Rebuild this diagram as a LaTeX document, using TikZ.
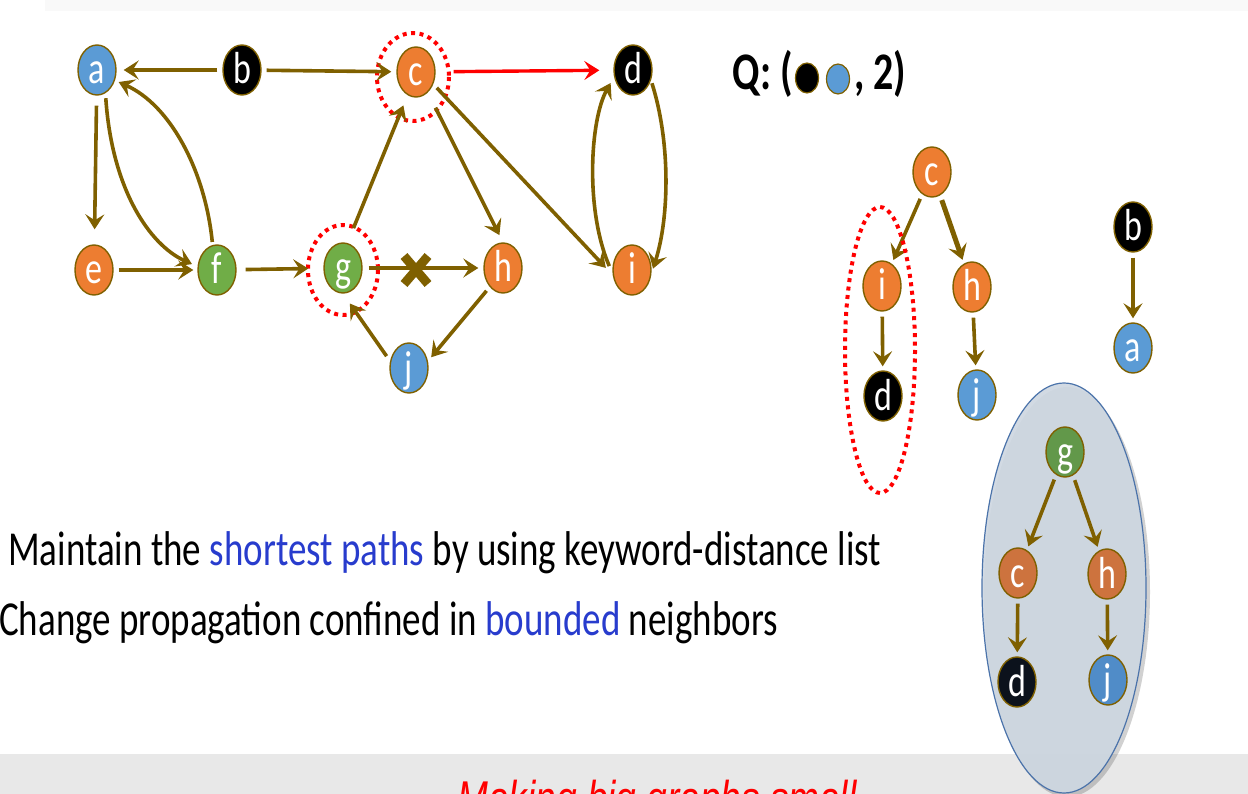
\documentclass[tikz,border=0pt]{standalone}
\usepackage{fontspec}
\setmainfont{Carlito}
\newfontfamily\redfont{Liberation Sans}
\usetikzlibrary{shapes.geometric,arrows.meta}
\definecolor{brn}{RGB}{127,96,0}
\definecolor{nblue}{RGB}{91,155,213}
\definecolor{norange}{RGB}{237,125,49}
\definecolor{ngreen}{RGB}{112,173,71}
\definecolor{dblue}{RGB}{80,140,200}
\definecolor{dorange}{RGB}{205,115,62}
\definecolor{dgreen}{RGB}{98,152,74}
\definecolor{dblack}{RGB}{12,18,28}
\definecolor{kwblue}{RGB}{40,60,205}
\definecolor{ovfill}{RGB}{206,215,225}
\definecolor{ovline}{RGB}{75,115,170}
\definecolor{topband}{RGB}{249,249,249}
\definecolor{botband}{RGB}{232,232,232}
\newcommand{\vs}[1]{\scalebox{1}[1.32]{#1}}
\begin{document}
\begin{tikzpicture}[x=1pt,y=-1pt,
  nd/.style={ellipse,draw=brn,line width=1.4pt,minimum width=38pt,minimum height=50pt,
    inner sep=0pt,text=white,font=\fontsize{34}{34}\selectfont,text height=28pt,text depth=0pt},
  ed/.style={draw=brn,line width=3.6pt,-{Stealth[length=15pt,width=19pt,inset=6pt]},
    shorten >=4pt,shorten <=5pt},
  rededge/.style={draw=red,line width=3.4pt,-{Stealth[length=15pt,width=19pt,inset=6pt]}},
  reddot/.style={draw=red,line width=4pt,dash pattern=on 4pt off 4.5pt},
  xbar/.style={draw=brn,line width=9pt},
  bodytext/.style={inner sep=0pt,font=\fontsize{37}{37}\selectfont},
  qtext/.style={inner sep=0pt,font=\fontsize{40}{40}\selectfont\bfseries},
  qdot/.style={ellipse,draw=brn,line width=1.2pt,minimum width=23pt,minimum height=30pt,inner sep=0pt}
]
\path[use as bounding box] (0,0) rectangle (1248,794);
\clip (0,0) rectangle (1248,794);
% bands
\fill[topband] (45,0) rectangle (1248,11);
\fill[botband] (0,754) rectangle (1248,794);
\node[anchor=base,inner sep=0pt,text=red,font=\redfont\itshape\fontsize{37}{37}\selectfont] (foot) at (657,815) {\vs{Making big graphs small}};

% ---------- left graph nodes ----------
\node[nd,fill=nblue] (a) at (97,70) {\vs{a}};
\node[nd,fill=black] (b) at (242,70) {\vs{b}};
\node[nd,fill=norange] (c) at (416,72) {\vs{c}};
\node[nd,fill=black] (d) at (633,70) {\vs{d}};
\node[nd,fill=norange] (e) at (94,270) {\vs{e}};
\node[nd,fill=ngreen] (f) at (217,270) {\vs{f}};
\node[nd,fill=ngreen] (g) at (343,268) {\vs{g}};
\node[nd,fill=norange] (h) at (503,268) {\vs{h}};
\node[nd,fill=norange] (i) at (632,270) {\vs{i}};
\node[nd,fill=nblue] (j) at (409,368) {\vs{j}};

\draw[reddot] (c.center) ++(-3,5) ellipse [x radius=36, y radius=44];
\draw[reddot] (g.center) ++(0,2) ellipse [x radius=35, y radius=45];

% edges
\draw[ed,shorten >=7pt] (b) -- (a);
\draw[ed,shorten >=5pt] (b) -- (c);
\draw[rededge,shorten <=18pt,shorten >=14pt] (c) -- (d);
\draw[ed,shorten >=15pt,shorten <=10pt] (a) -- (e);
\draw[ed,shorten >=6pt] (a.-70) .. controls (112,190) and (150,245) .. (f.170);
\draw[ed,shorten >=4pt,shorten <=3pt] (f.100) .. controls (205,170) and (170,105) .. (a.-30);
\draw[ed] (e) -- (f);
\draw[ed,shorten >=15pt,shorten <=9pt] (f) -- (g);
\draw[ed,shorten <=16pt,shorten >=11pt] (g.80) -- (c.-110);
\draw[ed,shorten <=17pt,shorten >=8pt] (c.-60) -- (h.north);
\draw[ed,shorten <=5pt,shorten >=10pt] (c.-35) -- (i.195);
\draw[ed,shorten <=6pt,shorten >=5pt] (g) -- (h);
\draw[ed,shorten <=5pt,shorten >=5pt] (h.-125) -- (j.20);
\draw[ed,shorten <=6pt,shorten >=12pt] (j.160) -- (g.-90);
\draw[ed,shorten <=3pt,shorten >=5pt] (d.-30) .. controls (670,140) and (670,215) .. (i.-10);
\draw[ed,shorten <=8pt,shorten >=7pt] (i.190) .. controls (585,210) and (590,120) .. (d.200);

% cross mark on g -> h
\coordinate (xm) at (416,270);
\draw[xbar] ([shift={(-12,-14)}]xm) -- ([shift={(12,14)}]xm);
\draw[xbar] ([shift={(12,-14)}]xm) -- ([shift={(-12,14)}]xm);

% ---------- query ----------
\node[qtext,anchor=base east] (q1) at (793,90) {\vs{Q: (}};
\node[qdot,fill=black] (qb) at (807,78) {};
\node[qdot,fill=nblue] (qa) at (838,79) {};
\node[qtext,anchor=base west] (q2) at (854,90) {\vs{, 2)}};

% ---------- tree 1 ----------
\node[nd,fill=norange] (tc) at (932,172) {\vs{c}};
\node[nd,fill=norange] (ti) at (882,286) {\vs{i}};
\node[nd,fill=norange] (th) at (972,287) {\vs{h}};
\node[nd,fill=black] (td) at (883,396) {\vs{d}};
\node[nd,fill=nblue] (tj) at (977,395) {\vs{j}};
\draw[ed] (tc) -- (ti);
\draw[ed,line width=5pt] (tc) -- (th);
\draw[ed] (ti) -- (td);
\draw[ed] (th) -- (tj);
\draw[reddot] (880,350) ellipse [x radius=35, y radius=143];

% ---------- b -> a ----------
\node[nd,fill=black] (rb) at (1133,227) {\vs{b}};
\node[nd,fill=nblue] (ra) at (1133,348) {\vs{a}};
\draw[ed] (rb) -- (ra);

% ---------- tree 2 in overlay ----------
\fill[black,opacity=0.18] (1067,592) ellipse [x radius=83, y radius=205];
\draw[ovline,line width=1.2pt,fill=ovfill,fill opacity=0.92] (1064,588) ellipse [x radius=82, y radius=205];
\node[nd,fill=dgreen] (g2) at (1065,452) {\vs{g}};
\node[nd,fill=dorange] (c2) at (1018,573) {\vs{c}};
\node[nd,fill=dorange] (h2) at (1107,574) {\vs{h}};
\node[nd,fill=dblack] (d2) at (1017,682) {\vs{d}};
\node[nd,fill=dblue] (j2) at (1108,680) {\vs{j}};
\draw[ed] (g2) -- (c2);
\draw[ed] (g2) -- (h2);
\draw[ed] (c2) -- (d2);
\draw[ed] (h2) -- (j2);

% ---------- text ----------
\node[bodytext,anchor=base west] (t1) at (8,565) {\vs{Maintain the \textcolor{kwblue}{shortest paths} by using keyword-distance list}};
\node[bodytext,anchor=base west] (t2) at (-1,635) {\vs{Change propagation confined in \textcolor{kwblue}{bounded} neighbors}};
\end{tikzpicture}
\end{document}
